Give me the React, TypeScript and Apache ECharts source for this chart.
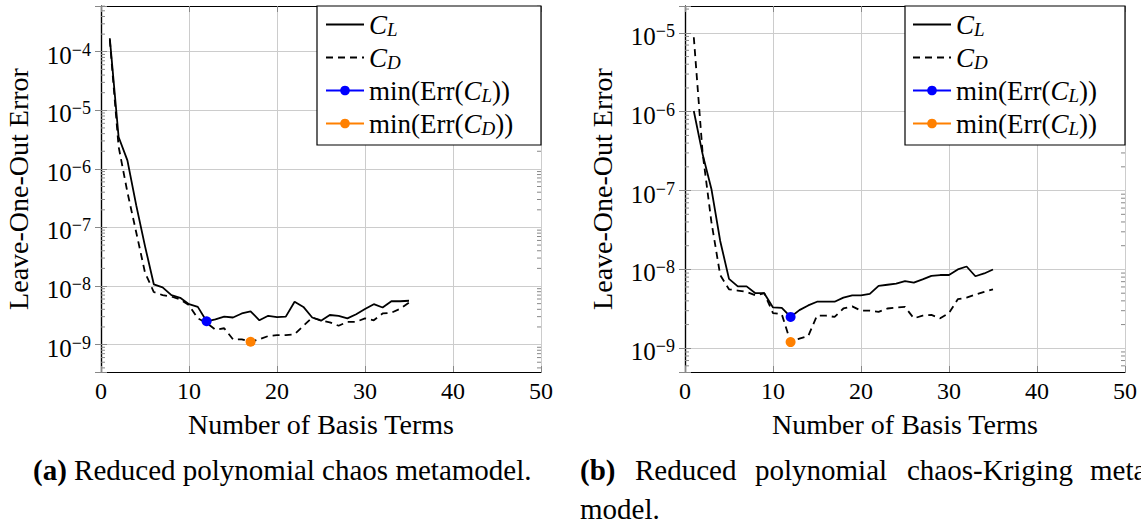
import React, { useEffect, useRef } from 'react';
import * as echarts from 'echarts';

// ---------- data ----------
const basisTerms = [
  1, 2, 3, 4, 5, 6, 7, 8, 9, 10, 11, 12, 13, 14, 15, 16, 17, 18, 19, 20,
  21, 22, 23, 24, 25, 26, 27, 28, 29, 30, 31, 32, 33, 34, 35,
];

// (a) reduced polynomial chaos
const aCL = [
  1.7e-4, 3.5e-6, 1.4e-6, 2.4e-7, 4.8e-8, 1.07e-8, 9.5e-9, 7e-9, 6.3e-9, 4.9e-9,
  4.4e-9, 2.5e-9, 2.7e-9, 3e-9, 2.9e-9, 3.4e-9, 3.7e-9, 2.6e-9, 3.1e-9, 2.95e-9,
  3e-9, 5.4e-9, 4.4e-9, 2.9e-9, 2.55e-9, 3.2e-9, 3.1e-9, 2.8e-9, 3.3e-9, 4.05e-9,
  4.9e-9, 4.3e-9, 5.5e-9, 5.5e-9, 5.6e-9,
];
const aCD = [
  1.6e-4, 2.4e-6, 4e-7, 8.3e-8, 1.7e-8, 7.9e-9, 7e-9, 6.6e-9, 5.9e-9, 4.7e-9,
  2.8e-9, 2.35e-9, 1.8e-9, 1.9e-9, 1.23e-9, 1.23e-9, 1.12e-9, 1.23e-9, 1.4e-9, 1.45e-9,
  1.45e-9, 1.5e-9, 2.1e-9, 2.9e-9, 2.6e-9, 2.4e-9, 2.1e-9, 2.45e-9, 2.45e-9, 2.8e-9,
  2.6e-9, 3.4e-9, 3.5e-9, 4.1e-9, 5.2e-9,
];
const aMinCL: [number, number] = [12, 2.5e-9];
const aMinCD: [number, number] = [17, 1.12e-9];

// (b) reduced polynomial chaos-Kriging
const bCL = [
  1.02e-6, 2.9e-7, 1.05e-7, 2.3e-8, 7.6e-9, 6.1e-9, 6.1e-9, 5e-9, 5e-9, 3.3e-9,
  3.25e-9, 2.5e-9, 3.05e-9, 3.5e-9, 3.9e-9, 3.9e-9, 3.9e-9, 4.4e-9, 4.7e-9, 4.7e-9,
  4.9e-9, 6.2e-9, 6.4e-9, 6.6e-9, 7.1e-9, 6.8e-9, 7.5e-9, 8.3e-9, 8.5e-9, 8.5e-9,
  1e-8, 1.09e-8, 8.2e-9, 8.9e-9, 1e-8,
];
const bCD = [
  8.8e-6, 3e-7, 4e-8, 8.5e-9, 5.6e-9, 5.4e-9, 5.2e-9, 4.7e-9, 5e-9, 2.8e-9,
  2.7e-9, 1.2e-9, 1.33e-9, 1.43e-9, 2.6e-9, 2.6e-9, 2.5e-9, 3.2e-9, 3.4e-9, 3e-9,
  3e-9, 2.9e-9, 3.2e-9, 3.3e-9, 3.35e-9, 2.4e-9, 2.6e-9, 2.65e-9, 2.4e-9, 2.8e-9,
  4.2e-9, 4.4e-9, 4.8e-9, 5.2e-9, 5.6e-9,
];
const bMinCL: [number, number] = [12, 2.5e-9];
const bMinCD: [number, number] = [12, 1.2e-9];

const xRange = [0, 50];
const xInterval = 10;
const yExpRangeA = [-9.468, -3.219];
const yExpRangeB = [-9.3, -4.66];

const xTitle = 'Number of Basis Terms';
const yTitle = 'Leave-One-Out Error';
const captionA = ['(a)', ' Reduced polynomial chaos metamodel.'];
const captionBWords = ['(b)', 'Reduced', 'polynomial', 'chaos-Kriging', 'meta-'];
const captionBLine2 = 'model.';

// ---------- styling ----------
const FONT = "'Liberation Serif', 'Times New Roman', serif";
const BLUE = '#0000ff';
const ORANGE = '#ff8000';

const legendNames: Record<string, string> = {
  aCL: '{i|C}{s|L}',
  aCD: '{i|C}{s|D}',
  aMinL: '{t|min(Err(}{i|C}{s|L}{t|))}',
  aMinD: '{t|min(Err(}{i|C}{s|D}{t|))}',
  bCL: '{i|C}{s|L}',
  bCD: '{i|C}{s|D}',
  bMinL: '{t|min(Err(}{i|C}{s|L}{t|))}',
  bMinD: '{t|min(Err(}{i|C}{s|L}{t|))}',
};

const legendRich = {
  t: { fontFamily: FONT, fontSize: 27, lineHeight: 30, color: '#000' },
  i: { fontFamily: FONT, fontSize: 27, lineHeight: 30, fontStyle: 'italic', color: '#000' },
  s: { fontFamily: FONT, fontSize: 19, height: 21, fontStyle: 'italic', verticalAlign: 'bottom', color: '#000' },
};

function yTickLabel(v: number) {
  const l = Math.log10(v);
  const e = Math.round(l);
  if (Math.abs(l - e) > 1e-6) return '';
  return `{b|10}{s|\u2212${-e}}`;
}

const yLabelRich = {
  b: { fontFamily: FONT, fontSize: 25, lineHeight: 32, verticalAlign: 'bottom', color: '#000' },
  s: { fontFamily: FONT, fontSize: 18, height: 28, verticalAlign: 'top', color: '#000' },
};

function minorTickValues(range: number[]) {
  const out: number[][] = [];
  for (let e = Math.floor(range[0]); e <= Math.ceil(range[1]); e++) {
    for (let k = 2; k <= 9; k++) {
      const v = k * Math.pow(10, e);
      const l = Math.log10(v);
      if (l > range[0] && l < range[1]) out.push([0, v]);
    }
  }
  return out;
}

function pairs(xs: number[], ys: number[]) {
  return xs.map((x, i) => [x, ys[i]]);
}

export default function App() {
  const ref = useRef<HTMLDivElement>(null);

  useEffect(() => {
    if (!ref.current) return;
    const chart = echarts.init(ref.current, undefined, { renderer: 'svg' });

    const grids = [
      { left: 101, top: 6, width: 440, height: 366 },
      { left: 685, top: 6, width: 440, height: 366 },
    ];
    const ranges = [yExpRangeA, yExpRangeB];

    const xAxes: any[] = [];
    const yAxes: any[] = [];
    grids.forEach((_, gi) => {
      xAxes.push({
        type: 'value', gridIndex: gi, position: 'bottom', min: xRange[0], max: xRange[1], interval: xInterval,
        axisLine: { show: true, onZero: false, lineStyle: { color: '#000', width: 1.2 } },
        axisTick: { show: true, inside: true, length: 6, lineStyle: { color: '#888', width: 1 } },
        axisLabel: { color: '#000', fontFamily: FONT, fontSize: 24, margin: 7 },
        splitLine: { show: true, lineStyle: { color: '#cccccc', width: 1 } },
        name: xTitle, nameLocation: 'middle', nameGap: 38,
        nameTextStyle: { color: '#000', fontFamily: FONT, fontSize: 28 },
      });
      xAxes.push({
        type: 'value', gridIndex: gi, position: 'top', min: xRange[0], max: xRange[1], interval: xInterval,
        axisLine: { show: true, onZero: false, lineStyle: { color: '#000', width: 1.2 } },
        axisTick: { show: true, inside: true, length: 6, lineStyle: { color: '#888', width: 1 } },
        axisLabel: { show: false },
        splitLine: { show: false },
      });
      const r = ranges[gi];
      yAxes.push({
        type: 'log', logBase: 10, gridIndex: gi, position: 'left',
        min: Math.pow(10, r[0]), max: Math.pow(10, r[1]),
        axisLine: { show: true, lineStyle: { color: '#000', width: 1.2 } },
        axisTick: { show: true, inside: true, length: 6, lineStyle: { color: '#888', width: 1 } },
        axisLabel: { formatter: yTickLabel, rich: yLabelRich, margin: 10, showMinLabel: true, showMaxLabel: true },
        splitLine: { show: true, lineStyle: { color: '#cccccc', width: 1 } },
        minorTick: { show: false },
        name: yTitle, nameLocation: 'middle', nameGap: 69, nameRotate: 90,
        nameTextStyle: { color: '#000', fontFamily: FONT, fontSize: 28 },
      });
      yAxes.push({
        type: 'log', logBase: 10, gridIndex: gi, position: 'right',
        min: Math.pow(10, r[0]), max: Math.pow(10, r[1]),
        axisLine: { show: true, lineStyle: { color: '#000', width: 1.2 } },
        axisTick: { show: true, inside: true, length: 6, lineStyle: { color: '#888', width: 1 } },
        axisLabel: { show: false },
        splitLine: { show: false },
      });
    });

    const lineSeries = (name: string, gi: number, data: number[][], dashed: boolean) => ({
      type: 'line', name, xAxisIndex: gi * 2, yAxisIndex: gi * 2,
      data, symbol: 'none', showSymbol: false, z: 3,
      lineStyle: { color: '#000', width: 1.8, type: dashed ? [7, 5] : 'solid' },
      itemStyle: { color: '#000' },
    });
    const markSeries = (name: string, gi: number, pt: [number, number], color: string) => ({
      type: 'line', name, xAxisIndex: gi * 2, yAxisIndex: gi * 2,
      data: [pt], symbol: 'circle', symbolSize: 10, showSymbol: true, z: 4,
      lineStyle: { color, width: 1.2 },
      itemStyle: { color },
    });
    const minorSeries = (gi: number) => ({
      type: 'custom', xAxisIndex: gi * 2, yAxisIndex: gi * 2, silent: true, z: 1,
      data: minorTickValues(ranges[gi]),
      renderItem: (_p: any, api: any) => {
        const v = api.value(1);
        const a = api.coord([xRange[0], v]);
        const b = api.coord([xRange[1], v]);
        return {
          type: 'group',
          children: [
            { type: 'line', shape: { x1: a[0], y1: a[1], x2: a[0] + 4, y2: a[1] }, style: { stroke: '#888', lineWidth: 1 } },
            { type: 'line', shape: { x1: b[0] - 4, y1: b[1], x2: b[0], y2: b[1] }, style: { stroke: '#888', lineWidth: 1 } },
          ],
        };
      },
    });

    const series: any[] = [
      minorSeries(0),
      minorSeries(1),
      lineSeries('aCL', 0, pairs(basisTerms, aCL), false),
      lineSeries('aCD', 0, pairs(basisTerms, aCD), true),
      markSeries('aMinL', 0, aMinCL, BLUE),
      markSeries('aMinD', 0, aMinCD, ORANGE),
      lineSeries('bCL', 1, pairs(basisTerms, bCL), false),
      lineSeries('bCD', 1, pairs(basisTerms, bCD), true),
      markSeries('bMinL', 1, bMinCL, BLUE),
      markSeries('bMinD', 1, bMinCD, ORANGE),
    ];

    const legendCommon = {
      orient: 'vertical', itemWidth: 38, itemHeight: 12, itemGap: 5.5, padding: 0,
      selectedMode: false, z: 10,
      formatter: (n: string) => legendNames[n],
      textStyle: { rich: legendRich },
    };
    const hideSym = { itemStyle: { opacity: 0 } };

    const capStyle = { fontFamily: FONT, fontSize: 29, fill: '#000', verticalAlign: 'middle' };
    const capBX = [580, 635, 755, 907, 1090];

    const option: any = {
      animation: false,
      backgroundColor: '#fff',
      grid: grids,
      xAxis: xAxes,
      yAxis: yAxes,
      series,
      legend: [
        {
          ...legendCommon, left: 325, top: 11,
          data: [{ name: 'aCL', ...hideSym }, { name: 'aCD', ...hideSym }, { name: 'aMinL' }, { name: 'aMinD' }],
        },
        {
          ...legendCommon, left: 912, top: 11,
          data: [{ name: 'bCL', ...hideSym }, { name: 'bCD', ...hideSym }, { name: 'bMinL' }, { name: 'bMinD' }],
        },
      ],
      graphic: [
        { type: 'rect', z: 8, shape: { x: 317, y: 6, width: 224, height: 139 }, style: { fill: '#fff', stroke: '#000', lineWidth: 1.2 } },
        { type: 'rect', z: 8, shape: { x: 905, y: 6, width: 220, height: 139 }, style: { fill: '#fff', stroke: '#000', lineWidth: 1.2 } },
        {
          type: 'text', z: 10, x: 33, y: 470,
          style: {
            text: `{b|${captionA[0]}}{n|${captionA[1]}}`,
            verticalAlign: 'middle',
            rich: {
              b: { fontFamily: FONT, fontSize: 29, fontWeight: 'bold', fill: '#000' },
              n: { fontFamily: FONT, fontSize: 29, fill: '#000' },
            },
          },
        },
        ...captionBWords.map((w, i) => ({
          type: 'text', z: 10, x: capBX[i], y: 470,
          style: { ...capStyle, text: w, fontWeight: i === 0 ? 'bold' : 'normal' },
        })),
        { type: 'text', z: 10, x: 580, y: 509, style: { ...capStyle, text: captionBLine2 } },
      ],
    };

    chart.setOption(option);
    return () => chart.dispose();
  }, []);

  return (
    <div
      ref={ref}
      style={{ position: 'absolute', left: 0, top: 0, width: 1141, height: 525, background: '#fff' }}
    />
  );
}
